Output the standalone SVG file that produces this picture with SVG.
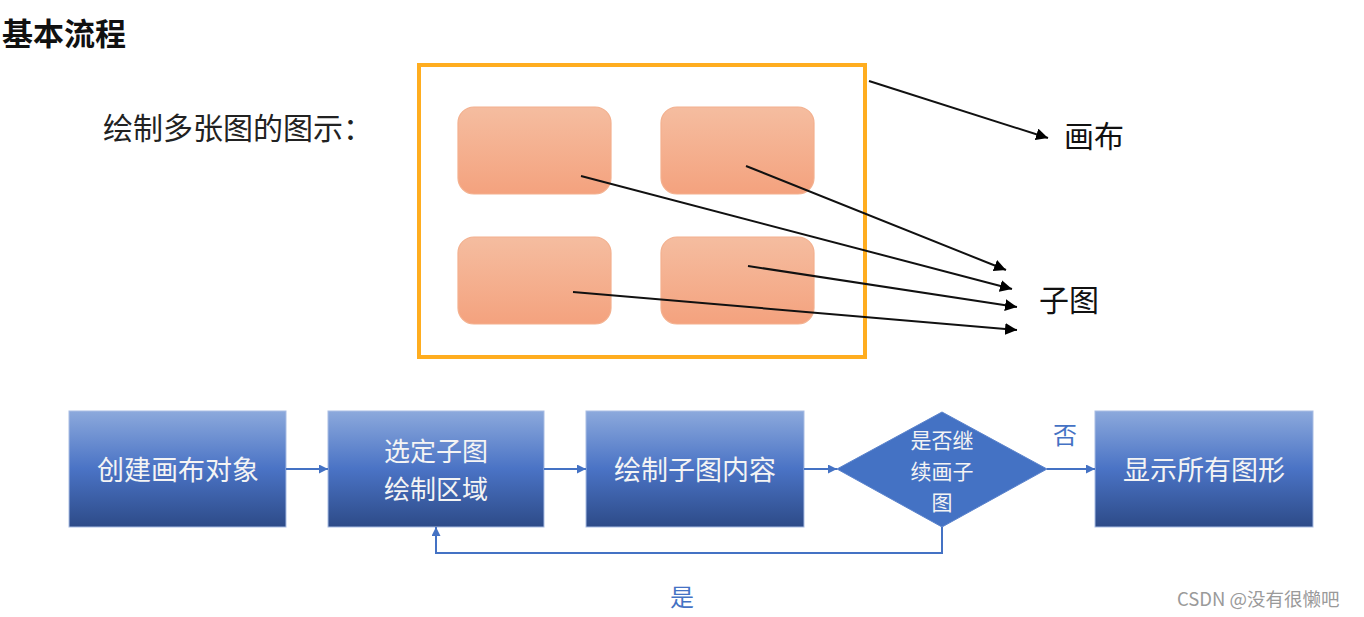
<svg xmlns="http://www.w3.org/2000/svg" width="1364" height="617" viewBox="0 0 1364 617">
<defs>
<linearGradient id="gOrange" x1="0" y1="0" x2="0" y2="1">
<stop offset="0" stop-color="#F5BDA0"/>
<stop offset="1" stop-color="#F4A27E"/>
</linearGradient>
<linearGradient id="gBlue" x1="0" y1="0" x2="0" y2="1">
<stop offset="0" stop-color="#8CA9DC"/>
<stop offset="0.5" stop-color="#4A73C5"/>
<stop offset="1" stop-color="#2D4B88"/>
</linearGradient>
<marker id="ak" viewBox="0 0 10 10" refX="10" refY="5" markerWidth="12" markerHeight="12" markerUnits="userSpaceOnUse" orient="auto">
<path d="M0,0 L10,5 L0,10 z" fill="#000"/>
</marker>
<marker id="ab" viewBox="0 0 10 10" refX="10" refY="5" markerWidth="9" markerHeight="9" markerUnits="userSpaceOnUse" orient="auto">
<path d="M0,0 L10,5 L0,10 z" fill="#4472C4"/>
</marker>
</defs>
<style>
text{font-family:"Noto Sans CJK SC","Microsoft YaHei",sans-serif}
.sub{fill:url(#gOrange);stroke:#F3B08E;stroke-width:1.2}
.box{fill:url(#gBlue);stroke:#A9BDE3;stroke-width:1}
.k{stroke:#111;stroke-width:2;fill:none}
.b{stroke:#4472C4;stroke-width:2;fill:none}
.wt{fill:#F4F4F4;font-size:27px;text-anchor:middle}
.wt2{fill:#F4F4F4;font-size:26px;text-anchor:middle}
.dt{fill:#F4F4F4;font-size:21px;text-anchor:middle}
.lbl{fill:#111;font-size:30px}
.bl{fill:#4472C4;font-size:24px;text-anchor:middle}
</style>
<rect width="1364" height="617" fill="#fff"/>
<text id="title" x="2" y="45" font-size="31" font-weight="bold" fill="#111">基本流程</text>
<text id="caption" x="103" y="139" font-size="30" fill="#222">绘制多张图的图示：</text>
<g id="canvas">
<rect x="419" y="65" width="446" height="292" fill="none" stroke="#FFAD1F" stroke-width="4"/>
</g>
<g id="sub1"><rect class="sub" x="458" y="107" width="153" height="87" rx="16"/></g>
<g id="sub2"><rect class="sub" x="661" y="107" width="153" height="87" rx="16"/></g>
<g id="sub3"><rect class="sub" x="458" y="237" width="153" height="87" rx="16"/></g>
<g id="sub4"><rect class="sub" x="661" y="237" width="153" height="87" rx="16"/></g>
<g id="label-canvas"><text class="lbl" x="1064" y="147">画布</text></g>
<g id="label-sub"><text class="lbl" x="1039" y="311">子图</text></g>
<g id="connectors-top">
<line class="k" x1="869" y1="81" x2="1048" y2="138" marker-end="url(#ak)"/>
<line class="k" x1="746" y1="166" x2="1006" y2="270" marker-end="url(#ak)"/>
<line class="k" x1="581" y1="176" x2="1012" y2="289" marker-end="url(#ak)"/>
<line class="k" x1="748" y1="266" x2="1017" y2="307" marker-end="url(#ak)"/>
<line class="k" x1="573" y1="292" x2="1017" y2="330" marker-end="url(#ak)"/>
</g>
<g id="n1"><rect class="box" x="69" y="411" width="217" height="116"/><text class="wt" x="178" y="480">创建画布对象</text></g>
<g id="n2"><rect class="box" x="328" y="411" width="216" height="116"/><text class="wt2" x="436" y="461">选定子图</text><text class="wt2" x="436" y="499">绘制区域</text></g>
<g id="n3"><rect class="box" x="586" y="411" width="218" height="116"/><text class="wt" x="695" y="480">绘制子图内容</text></g>
<g id="n4"><polygon points="942,412 1047,469 942,527 837,469" fill="#4472C4" stroke="#5B83CC" stroke-width="1"/>
<text class="dt" x="942" y="448">是否继</text>
<text class="dt" x="942" y="479">续画子</text>
<text class="dt" x="942" y="510">图</text></g>
<g id="n5"><rect class="box" x="1095" y="411" width="218" height="116"/><text class="wt" x="1204" y="480">显示所有图形</text></g>
<g id="connectors-flow">
<line class="b" x1="286" y1="469" x2="328" y2="469" marker-end="url(#ab)"/>
<line class="b" x1="544" y1="469" x2="586" y2="469" marker-end="url(#ab)"/>
<line class="b" x1="804" y1="469" x2="837" y2="469" marker-end="url(#ab)"/>
<line class="b" x1="1047" y1="469" x2="1095" y2="469" marker-end="url(#ab)"/>
<polyline class="b" points="942,527 942,553 436,553 436,527" marker-end="url(#ab)"/>
</g>
<text class="bl" x="1065" y="444">否</text>
<text class="bl" x="682" y="606">是</text>
<text x="1177" y="606" font-size="18.5" fill="#9A9A9A">CSDN @没有很懒吧</text>
</svg>
